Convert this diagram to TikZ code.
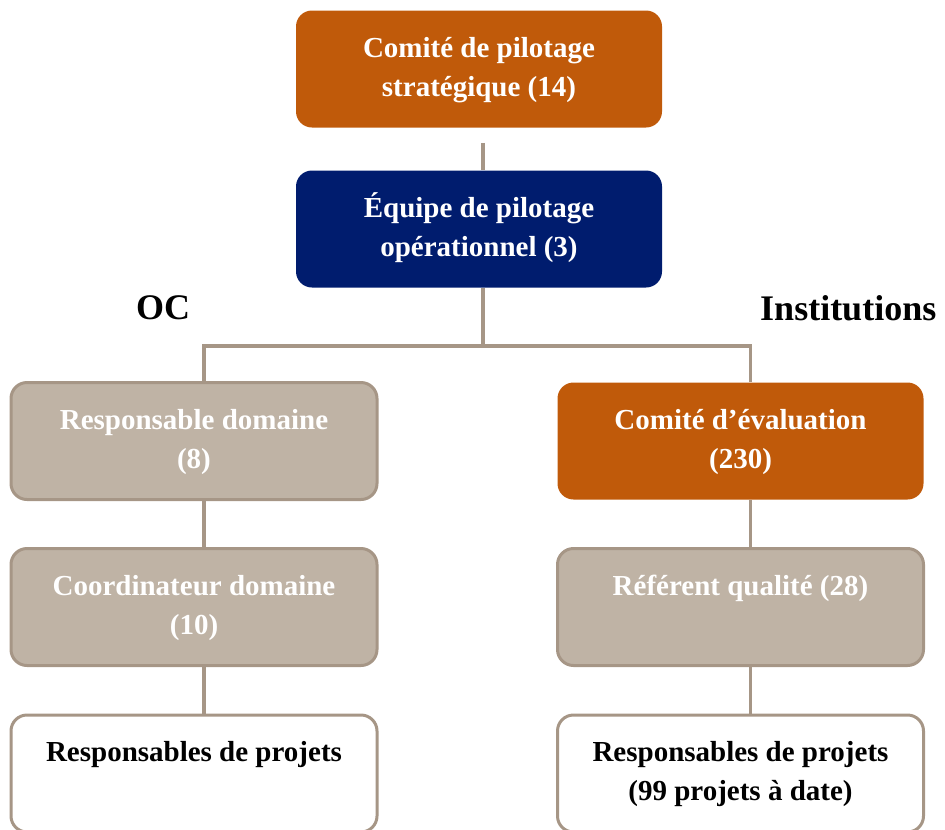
\documentclass[tikz,border=0pt]{standalone}
\usepackage{fontspec}
\setmainfont{Liberation Serif}
\definecolor{rust}{RGB}{192,90,10}
\definecolor{navy}{RGB}{0,28,110}
\definecolor{sand}{RGB}{191,179,165}
\definecolor{taupe}{RGB}{166,150,134}
\newcommand{\boxtext}[1]{\parbox[c][87.75pt][t]{274.5pt}{\centering\rule{0pt}{35pt}#1}}

\begin{document}
\begin{tikzpicture}[x=0.75pt,y=-0.75pt,
    box/.style={rounded corners=12pt,inner sep=0pt,font=\bfseries\fontsize{21.75}{29.25}\selectfont},
    lead/.style={box,fill=rust,text=white},
    team/.style={box,fill=navy,text=white},
    role/.style={box,fill=sand,draw=taupe,line width=2.25pt,text=white},
    leaf/.style={box,fill=white,draw=taupe,line width=2.25pt,text=black},
    side/.style={font=\bfseries\fontsize{27}{32}\selectfont},
    conn/.style={draw=taupe,line width=2.5pt}]
    \useasboundingbox (0,0) rectangle (945,829);
    % top
    \node [lead] (strat) at (479,69) {\boxtext{Comité de pilotage\\stratégique (14)}};
    \node [team] (equipe) at (479,229) {\boxtext{Équipe de pilotage\\opérationnel (3)}};
    % sides
    \node [side] (oc) at (163,308) {OC};
    \node [side,anchor=east] (inst) at (941,308) {Institutions};
    % left column
    \node [role] (resp) at (194,441) {\boxtext{Responsable domaine\\(8)}};
    \node [role] (coord) at (194,607) {\boxtext{Coordinateur domaine\\(10)}};
    \node [leaf] (projl) at (194,773.5) {\boxtext{Responsables de projets}};
    % right column
    \node [lead] (eval) at (740.5,441) {\boxtext{Comité d’évaluation\\(230)}};
    \node [role] (ref) at (740.5,607) {\boxtext{Référent qualité (28)}};
    \node [leaf] (projr) at (740.5,773.5) {\boxtext{Responsables de projets\\(99 projets à date)}};
    % links
    \coordinate (split) at (483,346);
    \draw [conn] ([xshift=3pt,yshift=-11.25pt]strat.south) -- ([xshift=3pt]equipe.north);
    \draw [conn] ([xshift=3pt]equipe.south) -- (split);
    \draw [conn] ([xshift=7.5pt]resp.north) |- (split) -| ([xshift=7.5pt]eval.north);
    \draw [conn] ([xshift=7.5pt]resp.south) -- ([xshift=7.5pt]coord.north);
    \draw [conn] ([xshift=7.5pt]coord.south) -- ([xshift=7.5pt]projl.north);
    \draw [conn] ([xshift=7.5pt]eval.south) -- ([xshift=7.5pt]ref.north);
    \draw [conn] ([xshift=7.5pt]ref.south) -- ([xshift=7.5pt]projr.north);
\end{tikzpicture}
\end{document}
